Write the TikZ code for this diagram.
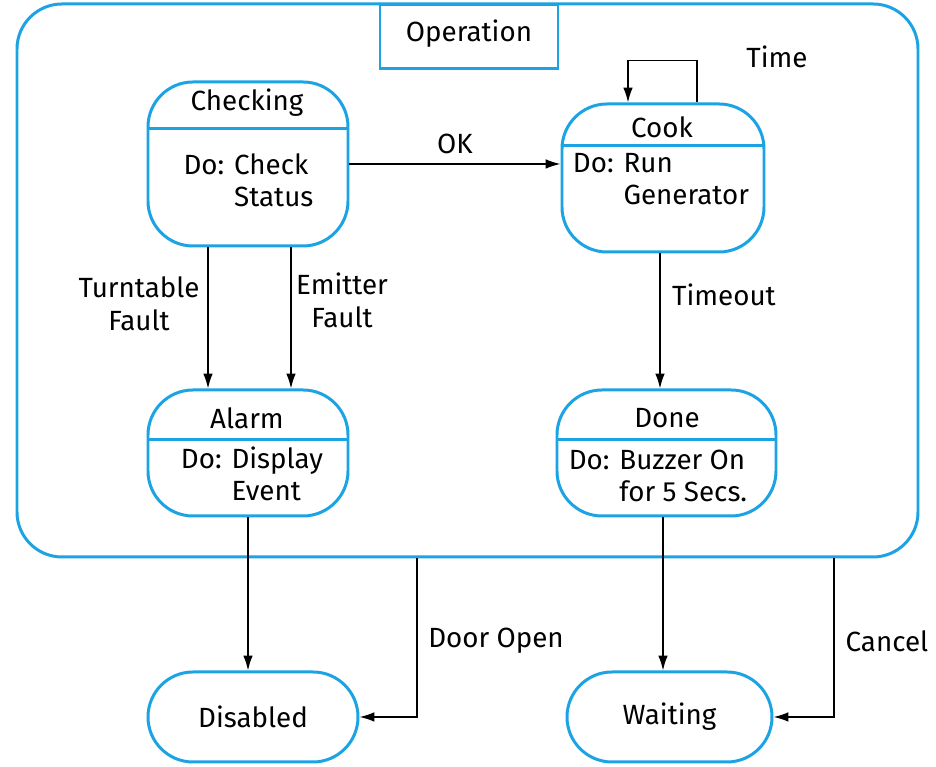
\documentclass[tikz,border=0pt]{standalone}
\usepackage{fontspec}
\setmainfont{Fira Sans}
\usetikzlibrary{arrows.meta}
\definecolor{umlblue}{RGB}{27,163,228}

\begin{document}
\begin{tikzpicture}[line width=0.85pt,
    font=\fontsize{15.8}{18.7}\selectfont,
    state/.style={draw=umlblue, line width=1.7pt, rounded corners=0.9cm, inner sep=0pt},
    divider/.style={draw=umlblue, line width=1.7pt},
    arr/.style={-{Latex[length=8.5pt,width=5.5pt]}},
    lbl/.style={align=center, inner sep=0pt}
]
\useasboundingbox (0,0) rectangle (18.72,15.34);

% --- Superzustand ---
\node[state, minimum width=18.02cm, minimum height=11.06cm] (opbox) at (9.35,9.73) {};
\node[draw=umlblue, line width=1.7pt, fill=white, minimum width=3.56cm, minimum height=1.28cm] (optitle) at (9.38,14.6) {};
\node (optext) at (9.38,14.66) {Operation};

% --- Checking ---
\node[state, minimum width=4cm, minimum height=3.28cm] (checking) at (4.96,12.06) {};
\draw[divider] ([yshift=-0.96cm]checking.north west) -- ([yshift=-0.96cm]checking.north east);
\node (checkingtitle) at (4.94,13.28) {Checking};
\node (checkingbody) at (4.97,11.66) {\begin{tabular}{@{}l@{ }l@{}}Do: & Check\\ & Status\end{tabular}};

% --- Cook ---
\node[state, minimum width=4.04cm, minimum height=2.96cm] (cook) at (13.26,11.78) {};
\draw[divider] ([yshift=-0.86cm]cook.north west) -- ([yshift=-0.86cm]cook.north east);
\node (cooktitle) at (13.24,12.8) {Cook};
\node (cookbody) at (13.22,11.7) {\begin{tabular}{@{}l@{ }l@{}}Do: & Run\\ & Generator\end{tabular}};

% --- Alarm ---
\node[state, minimum width=4cm, minimum height=2.52cm] (alarm) at (4.96,6.28) {};
\draw[divider] ([yshift=-1.02cm]alarm.north west) -- ([yshift=-1.02cm]alarm.north east);
\node (alarmtitle) at (4.94,6.98) {Alarm};
\node (alarmbody) at (5.04,5.78) {\begin{tabular}{@{}l@{ }l@{}}Do: & Display\\ & Event\end{tabular}};

% --- Done ---
\node[state, minimum width=4.38cm, minimum height=2.52cm] (done) at (13.33,6.28) {};
\draw[divider] ([yshift=-1.02cm]done.north west) -- ([yshift=-1.02cm]done.north east);
\node (donetitle) at (13.34,6.98) {Done};
\node (donebody) at (13.16,5.76) {\begin{tabular}{@{}l@{ }l@{}}Do: & Buzzer On\\ & for 5 Secs.\end{tabular}};

% --- Disabled / Waiting ---
\node[state, minimum width=4.2cm, minimum height=1.8cm] (disabled) at (5.06,1.0) {Disabled};
\node[state, minimum width=4.1cm, minimum height=1.8cm] (waiting) at (13.39,1.0) {Waiting};

% --- Uebergaenge ---
\draw[arr] (checking.east) -- (checking.east -| cook.west);
\draw[arr] ([xshift=0.68cm]cook.north) -- ++(0,0.84cm) -| ([xshift=-0.7cm]cook.north);
\draw[arr] ([xshift=-0.8cm]checking.south) -- ([xshift=-0.8cm]alarm.north);
\draw[arr] ([xshift=0.86cm]checking.south) -- ([xshift=0.86cm]alarm.north);
\draw[arr] ([xshift=-0.06cm]cook.south) -- ([xshift=-0.06cm]cook.south |- done.north);
\draw[arr] (alarm.south) -- (alarm.south |- disabled.north);
\draw[arr] ([xshift=-0.07cm]done.south) -- ([xshift=-0.07cm]done.south |- waiting.north);
\draw[arr] ([xshift=-1.01cm]opbox.south) |- (disabled.east);
\draw[arr] ([xshift=7.33cm]opbox.south) |- (waiting.east);

% --- Beschriftungen ---
\node[lbl] (okl) at (9.1,12.46) {OK};
\node[lbl] (timel) at (15.54,14.2) {Time};
\node[lbl] (turntablel) at (2.78,9.26) {Turntable\\Fault};
\node[lbl] (emitterl) at (6.84,9.34) {Emitter\\Fault};
\node[lbl] (timeoutl) at (14.48,9.44) {Timeout};
\node[lbl] (doorl) at (9.92,2.52) {Door Open};
\node[lbl] (cancell) at (17.74,2.52) {Cancel};

\end{tikzpicture}
\end{document}
